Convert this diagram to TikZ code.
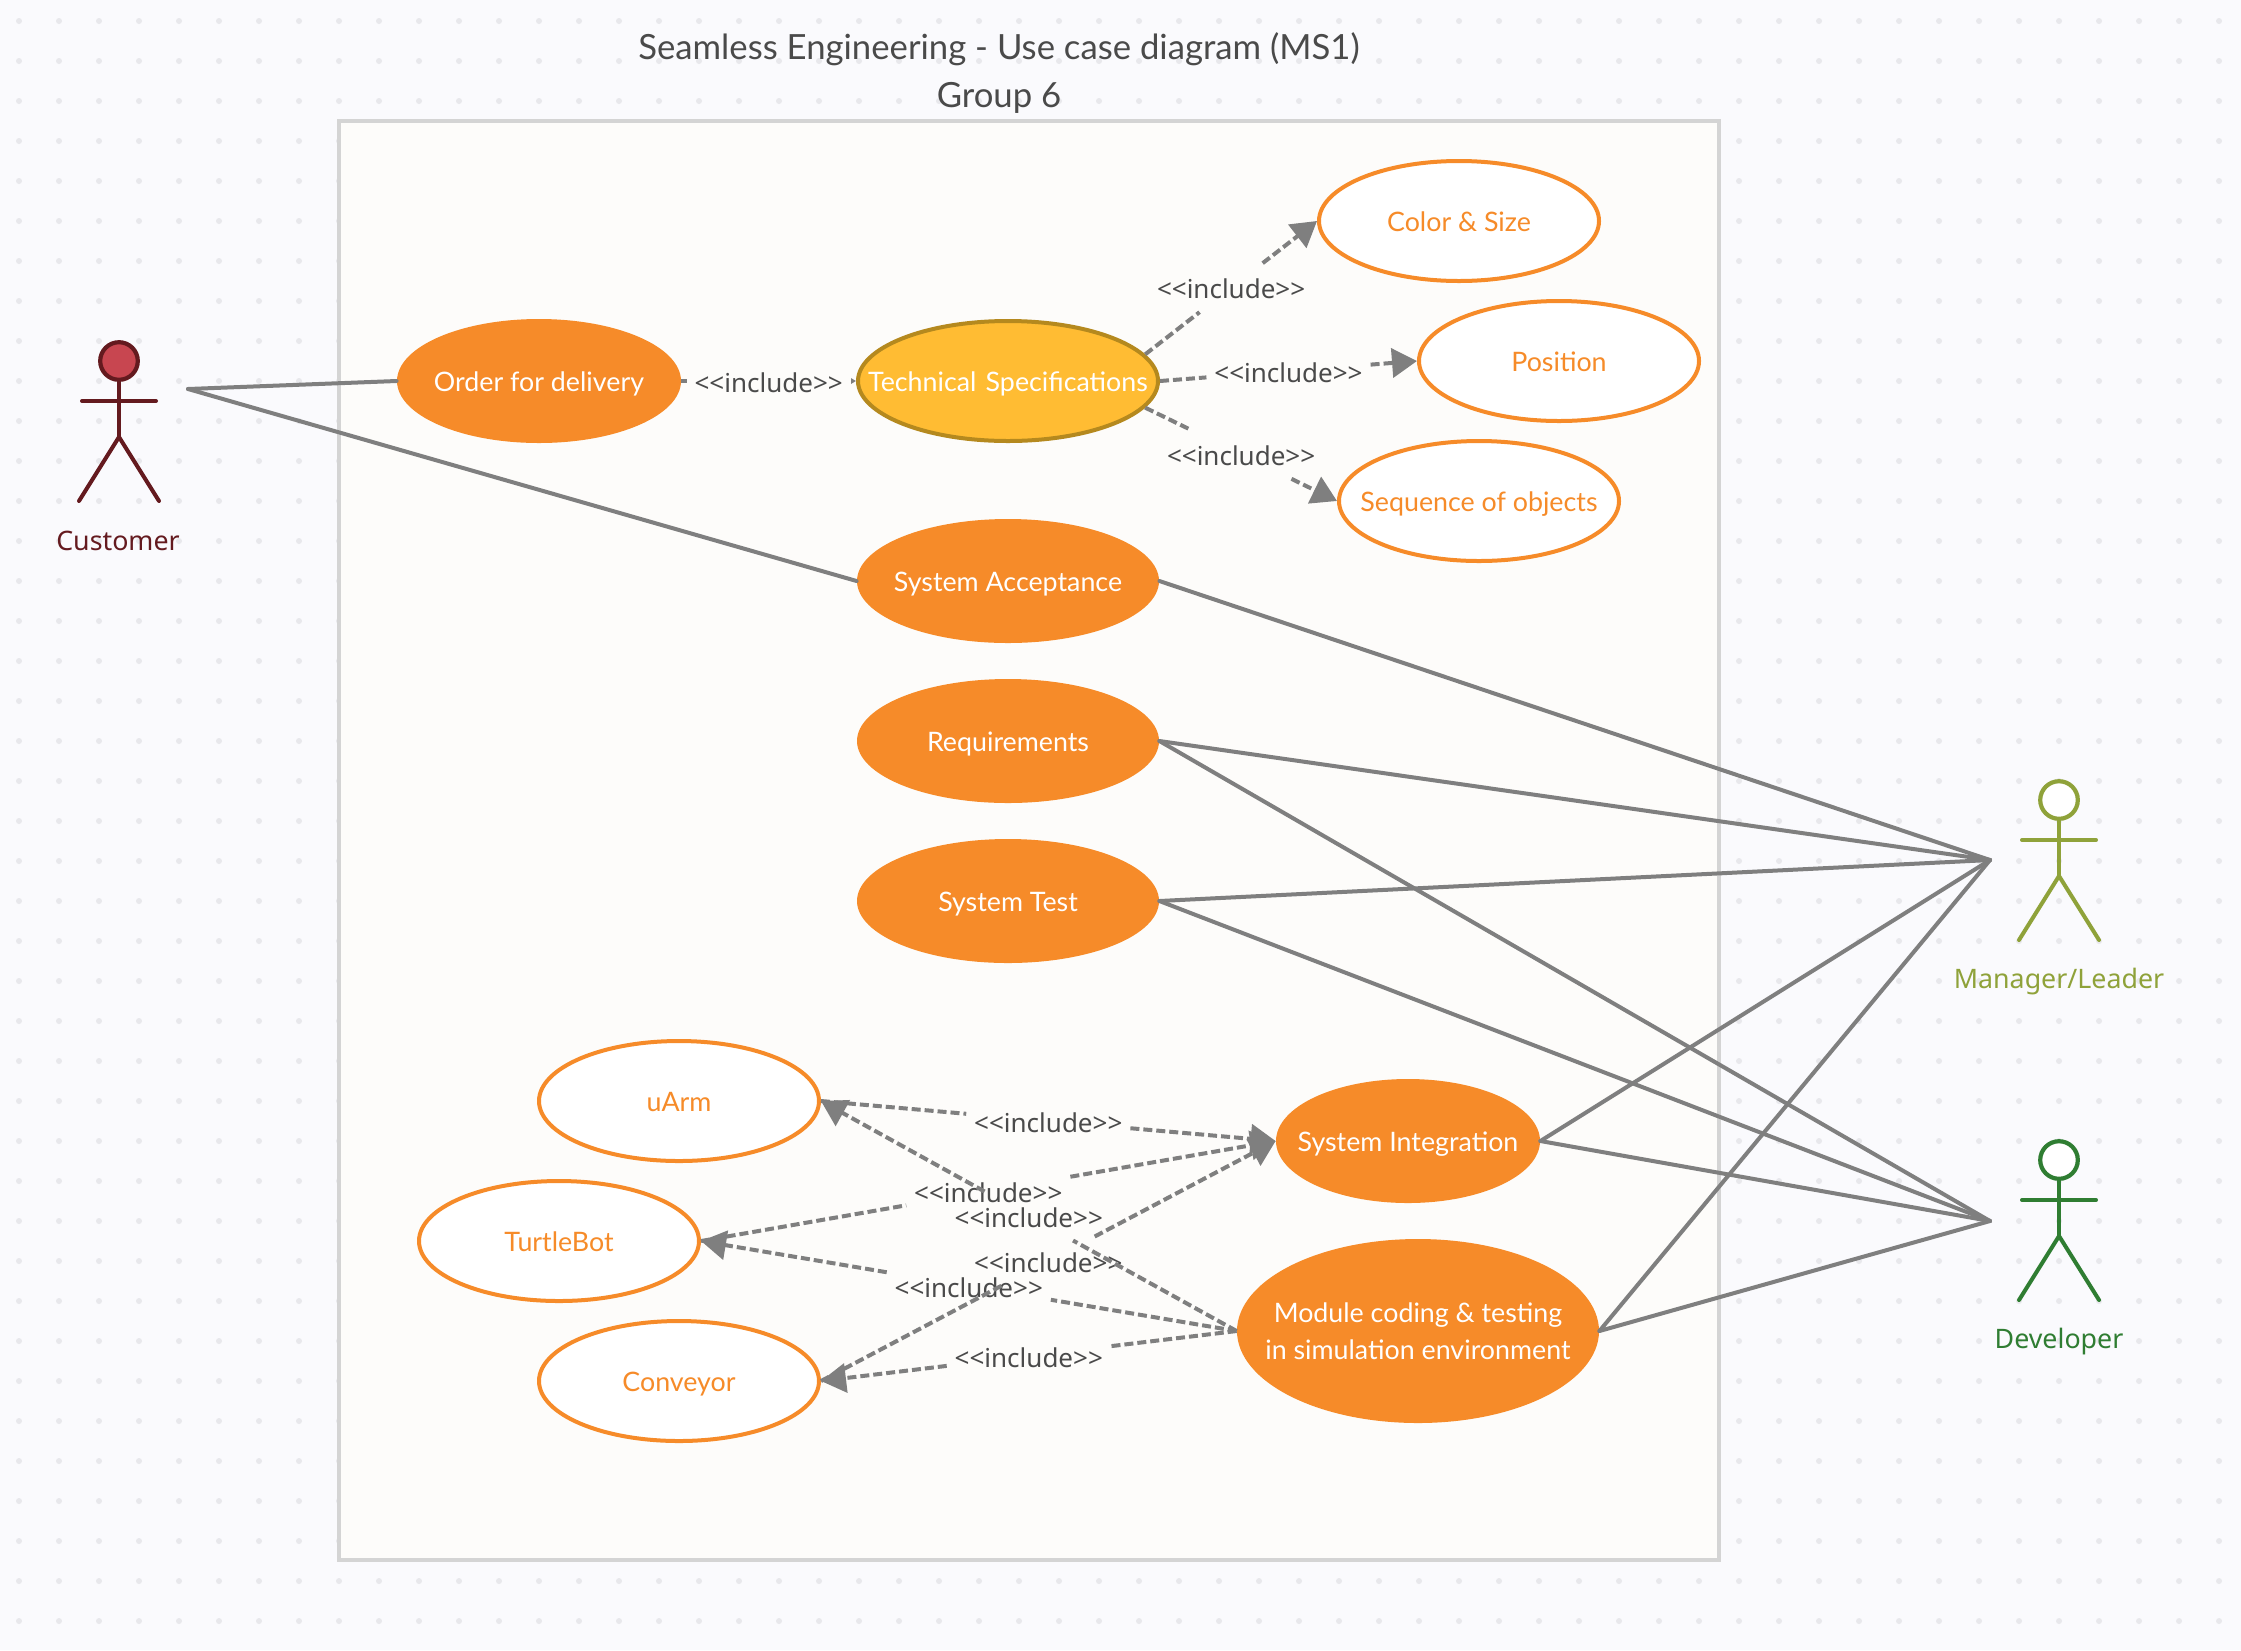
\documentclass[tikz,border=0pt]{standalone}
\usepackage{fontspec}
\setmainfont{Lato}
\newfontfamily\labfont{Noto Sans}
\usetikzlibrary{shapes.geometric,arrows.meta}
\definecolor{bgc}{HTML}{FAFAFD}
\definecolor{dotc}{HTML}{E8E8EC}
\definecolor{framec}{HTML}{D4D4D4}
\definecolor{framef}{HTML}{FDFCFA}
\definecolor{orangec}{HTML}{F68B29}
\definecolor{goldf}{HTML}{FFBC33}
\definecolor{golds}{HTML}{B5891E}
\definecolor{linec}{HTML}{7F7F7F}
\definecolor{labc}{HTML}{4A4A4A}
\definecolor{custc}{HTML}{641A1F}
\definecolor{custf}{HTML}{C84650}
\definecolor{mgrc}{HTML}{8FA23A}
\definecolor{devc}{HTML}{2F7D32}
\newcommand{\inc}{<{}<include>{}>}
\newcommand{\ct}[1]{\makebox[0pt]{#1}}
\tikzset{
  x=0.5pt,y=-0.5pt,
  casefont/.style={inner sep=0pt,font=\fontsize{13.4}{18.5}\selectfont,text height=10pt,text depth=0pt},
  solidcase/.style={ellipse,fill=orangec,draw=none,text=white,casefont},
  opencase/.style={ellipse,fill=white,draw=orangec,line width=2pt,text=orangec,casefont},
  goldcase/.style={ellipse,fill=goldf,draw=golds,line width=2pt,text=white,casefont},
  assoc/.style={draw=linec,line width=2pt,line cap=round},
  dashline/.style={draw=linec,line width=2pt,dash pattern=on 4.5pt off 2pt},
  incl/.style={dashline,-{Triangle[length=12.5pt,width=14.5pt,fill=linec]}},
  lab/.style={text=labc,inner xsep=4pt,inner ysep=0pt,outer sep=0pt,minimum height=24.5pt,text height=11pt,text depth=0pt,font=\labfont\fontsize{13}{16}\selectfont},
  actorname/.style={font=\labfont\fontsize{13.4}{16}\selectfont},
  titletext/.style={text=labc,font=\fontsize{17.35}{20}\selectfont},
  limb/.style={line width=2pt,line cap=round},
  headc/.style={circle,line width=2.1pt,minimum size=18.8pt,inner sep=0pt},
}
\begin{document}
\begin{tikzpicture}
\useasboundingbox (0,0) rectangle (2241,1650);
\fill[bgc] (0,0) rectangle (2241,1650);
\foreach \i in {0,...,55}{\foreach \j in {0,...,40}{
  \fill[dotc] (19+40*\i,21+40*\j) circle (1.5pt);}}
\node[fill=framef,draw=framec,line width=2pt,minimum width=690pt,minimum height=719.5pt,anchor=north west,inner sep=0pt] (frame) at (337,119) {};
\node[titletext] (t1) at (999,49) {Seamless Engineering - Use case diagram (MS1)};
\node[titletext] (t2) at (999,98) {Group 6};
% use cases
\node[solidcase,minimum width=142pt,minimum height=62pt] (order) at (539,381) {\ct{Order for delivery}};
\node[goldcase,minimum width=150pt,minimum height=60pt] (tech) at (1008,381) {\ct{Technical\hspace{4.6pt}Specifications}};
\node[opencase,minimum width=140pt,minimum height=60pt] (color) at (1459,221) {\ct{Color \& Size}};
\node[opencase,minimum width=140pt,minimum height=60pt] (position) at (1559,361) {\ct{Position}};
\node[opencase,minimum width=140pt,minimum height=60pt] (seq) at (1479,501) {\ct{Sequence of objects}};
\node[solidcase,minimum width=151pt,minimum height=62pt] (accept) at (1008,581) {\ct{System Acceptance}};
\node[solidcase,minimum width=151pt,minimum height=62pt] (req) at (1008,741) {\ct{Requirements}};
\node[solidcase,minimum width=151pt,minimum height=62pt] (test) at (1008,901) {\ct{System Test}};
\node[opencase,minimum width=140pt,minimum height=60pt] (uarm) at (679,1101) {\ct{uArm}};
\node[opencase,minimum width=140pt,minimum height=60pt] (turtle) at (559,1241) {\ct{TurtleBot}};
\node[opencase,minimum width=140pt,minimum height=60pt] (conv) at (679,1381) {\ct{Conveyor}};
\node[solidcase,minimum width=132pt,minimum height=62pt] (integ) at (1408,1141) {\ct{System Integration}};
\node[solidcase,minimum width=181pt,minimum height=92pt,text height=0pt,text depth=9pt] (module) at (1418,1331) {\ct{\parbox[t]{180pt}{\centering Module coding \& testing\\in simulation environment}}};
% actors
\coordinate (custp) at (188,389);
\coordinate (mgrp) at (1990,860);
\coordinate (devp) at (1990,1221);
\node[headc,draw=custc,fill=custf] (custh) at (119,361) {};
\coordinate (custb) at (119,437);
\coordinate (custal) at (82,401); \coordinate (custar) at (156,401);
\coordinate (custll) at (79,501); \coordinate (custlr) at (159,501);
\draw[custc,limb] (custh) -- (custb);
\draw[custc,limb] (custal) -- (custar);
\draw[custc,limb] (custll) -- (custb) -- (custlr);
\node[actorname,text=custc] (custn) at (118,541) {Customer};
\node[headc,draw=mgrc,fill=white] (mgrh) at (2059,800) {};
\coordinate (mgrb) at (2059,876);
\coordinate (mgral) at (2022,840); \coordinate (mgrar) at (2096,840);
\coordinate (mgrll) at (2019,940); \coordinate (mgrlr) at (2099,940);
\draw[mgrc,limb] (mgrh) -- (mgrb);
\draw[mgrc,limb] (mgral) -- (mgrar);
\draw[mgrc,limb] (mgrll) -- (mgrb) -- (mgrlr);
\node[actorname,text=mgrc] (mgrn) at (2059,982) {Manager/Leader};
\node[headc,draw=devc,fill=white] (devh) at (2059,1160) {};
\coordinate (devb) at (2059,1236);
\coordinate (deval) at (2022,1200); \coordinate (devar) at (2096,1200);
\coordinate (devll) at (2019,1300); \coordinate (devlr) at (2099,1300);
\draw[devc,limb] (devh) -- (devb);
\draw[devc,limb] (deval) -- (devar);
\draw[devc,limb] (devll) -- (devb) -- (devlr);
\node[actorname,text=devc] (devn) at (2059,1342) {Developer};
% associations
\draw[assoc] (custp) -- (order.west);
\draw[assoc] (custp) -- (accept.west);
\draw[assoc] (accept.east) -- (mgrp);
\draw[assoc] (req.east) -- (mgrp);
\draw[assoc] (test.east) -- (mgrp);
\draw[assoc] (integ.east) -- (mgrp);
\draw[assoc] (module.east) -- (mgrp);
\draw[assoc] (req.east) -- (devp);
\draw[assoc] (test.east) -- (devp);
\draw[assoc] (integ.east) -- (devp);
\draw[assoc] (module.east) -- (devp);
% include labels: each one opens a gap only in its own connector
\path (tech.11) -- node[lab] (l1) {\inc} (color.west);
\path (tech.east) -- node[lab] (l2) {\inc} (position.west);
\path (tech.-11) -- node[lab] (l3) {\inc} (seq.west);
\path (uarm.east) -- node[lab] (l4) {\inc} (integ.west);
\path (turtle.east) -- node[lab] (l5) {\inc} (integ.west);
\path (module.west) -- node[lab] (l8) {\inc} (turtle.east);
\path (module.west) -- node[lab] (l9) {\inc} (conv.east);
\path (conv.east) -- node[lab] (l7) {\inc} (integ.west);
\path (module.west) -- node[lab] (l6) {\inc} (uarm.east);
% include connectors
\draw[incl] (order.east) -- node[lab,fill=framef] (l0) {\inc} (tech.west);
\draw[dashline] (tech.11) -- (l1); \draw[incl] (l1) -- (color.west);
\draw[dashline] (tech.east) -- (l2); \draw[incl] (l2) -- (position.west);
\draw[dashline] (tech.-11) -- (l3); \draw[incl] (l3) -- (seq.west);
\draw[dashline] (uarm.east) -- (l4); \draw[incl] (l4) -- (integ.west);
\draw[dashline] (turtle.east) -- (l5); \draw[incl] (l5) -- (integ.west);
\draw[dashline] (module.west) -- (l8); \draw[incl] (l8) -- (turtle.east);
\draw[dashline] (module.west) -- (l9); \draw[incl] (l9) -- (conv.east);
\draw[dashline] (conv.east) -- (l7); \draw[incl] (l7) -- (integ.west);
\draw[dashline] (module.west) -- (l6); \draw[incl] (l6) -- (uarm.east);
\end{tikzpicture}
\end{document}
